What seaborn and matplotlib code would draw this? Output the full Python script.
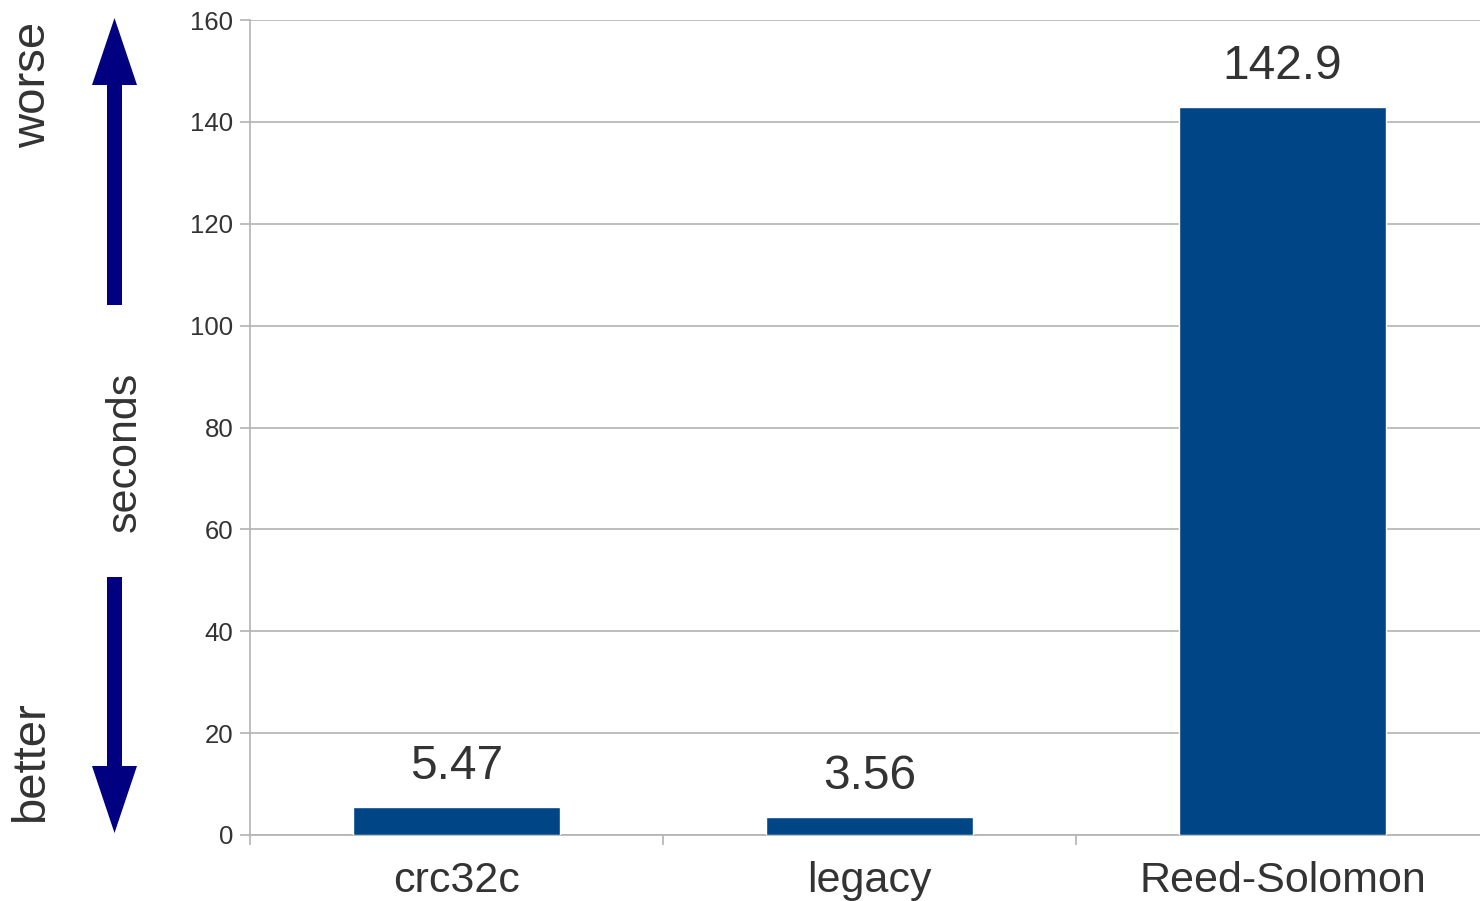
import matplotlib
matplotlib.use("Agg")
import matplotlib.pyplot as plt
from matplotlib.patches import FancyArrow
from matplotlib.ticker import FixedLocator
import seaborn as sns
import pandas as pd

# Benchmark results (seconds, lower is better)
methods = ["crc32c", "legacy", "Reed-Solomon"]
seconds = [5.47, 3.56, 142.9]
value_labels = ["5.47", "3.56", "142.9"]
y_ticks = [0, 20, 40, 60, 80, 100, 120, 140, 160]

sns.set_theme(style="white")
plt.rcParams["font.family"] = ["Liberation Sans", "DejaVu Sans"]

TEXT = "#333333"
GRID = "#b3b3b3"
BAR = "#004586"
ARROW = "#000080"

fig = plt.figure(figsize=(14.8, 9.01), dpi=100)
# plot area runs slightly past the right edge of the canvas
ax = fig.add_axes([250 / 1480, 66 / 901, 1239 / 1480, 815 / 901])

df = pd.DataFrame({"method": methods, "seconds": seconds})
sns.barplot(data=df, x="method", y="seconds", color=BAR, saturation=1,
            width=0.5, ax=ax, zorder=3)

ax.set_xlim(-0.5, len(methods) - 0.5)
ax.set_ylim(0, 160)
ax.set_yticks(y_ticks)
ax.set_xlabel("")
ax.set_ylabel("")

# horizontal gridlines
ax.yaxis.grid(True, color=GRID, linewidth=1.2, zorder=0)
ax.xaxis.grid(False)

for side in ("top", "right"):
    ax.spines[side].set_visible(False)
for side in ("left", "bottom"):
    ax.spines[side].set_color(GRID)
    ax.spines[side].set_linewidth(1.2)

ax.tick_params(axis="y", which="major", length=7, width=1.2, color=GRID,
               labelsize=18.5, labelcolor=TEXT, pad=5, left=True)
ax.tick_params(axis="x", which="major", length=0, labelsize=31,
               labelcolor=TEXT, pad=18.5)
# category separators on the x axis
ax.xaxis.set_minor_locator(FixedLocator([i - 0.5 for i in range(len(methods) + 1)]))
ax.tick_params(axis="x", which="minor", length=7, width=1.2, color=GRID,
               bottom=True)

# value labels above the bars
for i, (v, lab) in enumerate(zip(seconds, value_labels)):
    ax.annotate(lab, xy=(i, v), xytext=(0, 20), textcoords="offset points",
                ha="center", va="baseline", fontsize=34.5, color=TEXT)

# side annotations: direction arrows and unit
tr = fig.dpi_scale_trans
arrow_style = dict(width=0.15, head_width=0.45, head_length=0.67,
                   length_includes_head=True, facecolor=ARROW,
                   edgecolor="none", linewidth=0, transform=tr)
fig.add_artist(FancyArrow(1.145, 5.96, 0, 8.83 - 5.96, **arrow_style))
fig.add_artist(FancyArrow(1.145, 3.24, 0, 0.68 - 3.24, **arrow_style))

fig.text(33 / 1480, 1 - 85 / 901, "worse", rotation=90, ha="center",
         va="center", fontsize=34, color=TEXT)
fig.text(31 / 1480, 1 - 762 / 901, "better", rotation=90, ha="center",
         va="center", fontsize=34, color=TEXT)
fig.text(125 / 1480, 1 - 452 / 901, "seconds", rotation=90, ha="center",
         va="center", fontsize=31, color=TEXT)

fig.savefig("out.png", dpi=100, facecolor="white")
